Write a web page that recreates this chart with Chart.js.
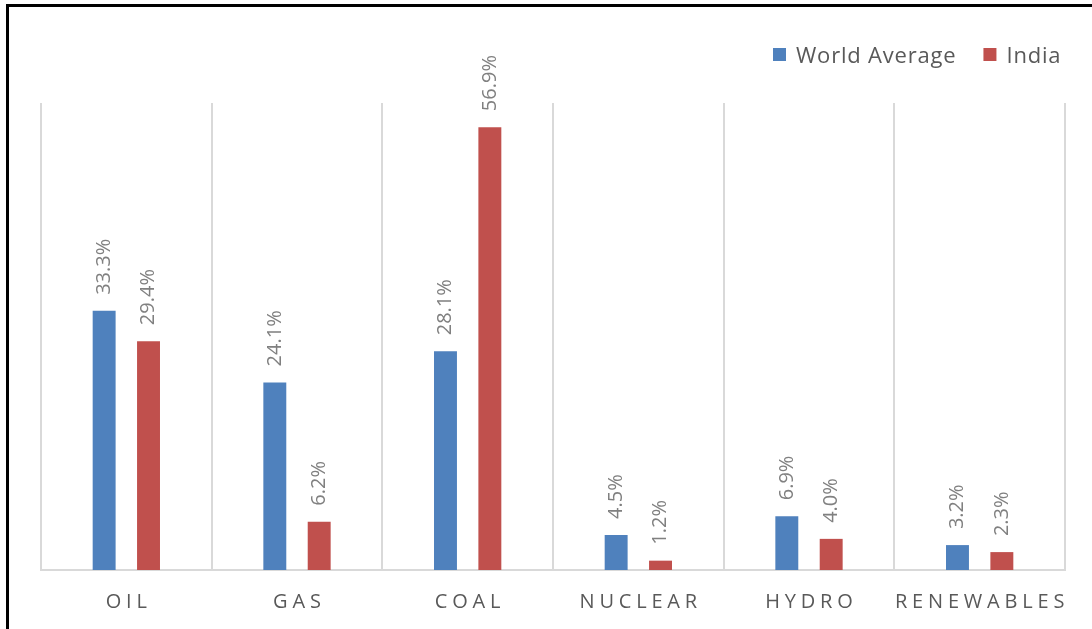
<!DOCTYPE html>
<html>
<head>
<meta charset="utf-8">
<script src="https://cdn.jsdelivr.net/npm/chart.js@4.4.1/dist/chart.umd.min.js"></script>
<style>
  html, body { margin: 0; padding: 0; background: #fff; }
  #wrap { width: 1092px; height: 629px; position: relative; }
</style>
</head>
<body>
<div id="wrap"><canvas id="c" width="1092" height="629"></canvas></div>
<script>
const categories = ['OIL', 'GAS', 'COAL', 'NUCLEAR', 'HYDRO', 'RENEWABLES'];
const worldAverage = [33.3, 24.1, 28.1, 4.5, 6.9, 3.2];
const india = [29.4, 6.2, 56.9, 1.2, 4.0, 2.3];
const seriesNames = ['World Average', 'India'];
const seriesColors = ['#4F81BD', '#C0504D'];

const FONT = '"Open Sans", "DejaVu Sans", sans-serif';

const framePlugin = {
  id: 'frame',
  beforeDraw(chart) {
    const ctx = chart.ctx;
    ctx.save();
    ctx.fillStyle = '#fff';
    ctx.fillRect(0, 0, chart.width, chart.height);
    ctx.strokeStyle = '#000';
    ctx.lineWidth = 3;
    ctx.strokeRect(7.5, 5.5, 1300, 1000);
    ctx.restore();
  }
};

const valueLabels = {
  id: 'valueLabels',
  afterDatasetsDraw(chart) {
    const ctx = chart.ctx;
    ctx.save();
    ctx.font = '20px ' + FONT;
    ctx.fillStyle = '#808080';
    ctx.textAlign = 'left';
    ctx.textBaseline = 'middle';
    chart.data.datasets.forEach((ds, di) => {
      const meta = chart.getDatasetMeta(di);
      meta.data.forEach((bar, i) => {
        const v = ds.data[i];
        ctx.save();
        ctx.translate(bar.x, bar.y - 16);
        ctx.rotate(-Math.PI / 2);
        ctx.fillText(v.toFixed(1) + '%', 0, 0);
        ctx.restore();
      });
    });
    ctx.restore();
  }
};

const categoryLabels = {
  id: 'categoryLabels',
  afterDraw(chart) {
    const ctx = chart.ctx;
    const xs = chart.scales.x;
    ctx.save();
    ctx.font = '20px ' + FONT;
    ctx.fillStyle = '#595959';
    ctx.textAlign = 'left';
    ctx.textBaseline = 'alphabetic';
    const sp = 4.8;
    ctx.letterSpacing = sp + 'px';
    chart.data.labels.forEach((lab, i) => {
      const cx = xs.getPixelForValue(i);
      const w = ctx.measureText(lab).width - sp;
      ctx.fillText(lab, cx - w / 2, 608);
    });
    ctx.restore();
  }
};

const legendPlugin = {
  id: 'customLegend',
  afterDraw(chart) {
    const ctx = chart.ctx;
    ctx.save();
    ctx.font = '22px ' + FONT;
    ctx.letterSpacing = '0.8px';
    ctx.textBaseline = 'alphabetic';
    let x = 773;
    chart.data.datasets.forEach((ds) => {
      ctx.fillStyle = ds.backgroundColor;
      ctx.fillRect(x, 48, 13, 13);
      x += 13 + 10;
      ctx.fillStyle = '#595959';
      ctx.fillText(ds.label, x, 63);
      x += ctx.measureText(ds.label).width + 27;
    });
    ctx.restore();
  }
};

new Chart(document.getElementById('c'), {
  type: 'bar',
  data: {
    labels: categories,
    datasets: [
      { label: seriesNames[0], data: worldAverage, backgroundColor: seriesColors[0] },
      { label: seriesNames[1], data: india, backgroundColor: seriesColors[1] }
    ]
  },
  options: {
    responsive: false,
    animation: false,
    devicePixelRatio: 1,
    layout: { padding: { left: 41, right: 27, top: 103, bottom: 0 } },
    datasets: { bar: { categoryPercentage: 0.52, barPercentage: 0.517 } },
    plugins: { legend: { display: false }, tooltip: { enabled: false } },
    scales: {
      x: {
        offset: true,
        grid: { offset: true, color: '#D9D9D9', lineWidth: 2, drawTicks: false },
        border: { display: true, color: '#D9D9D9', width: 2 },
        ticks: { display: false },
        afterFit(scale) { scale.height = 59; }
      },
      y: {
        display: false,
        min: 0,
        max: 60
      }
    }
  },
  plugins: [framePlugin, valueLabels, categoryLabels, legendPlugin]
});
</script>
</body>
</html>
